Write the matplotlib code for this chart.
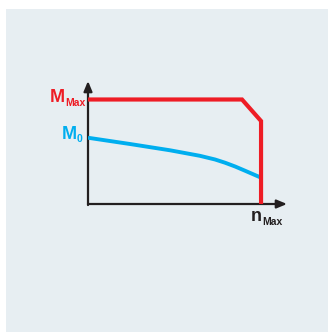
import matplotlib.pyplot as plt

# speed n (n_Max = 1) and torque M (M_Max = 1)
limit_n = [0.0, 0.89, 1.0, 1.0]
limit_m = [1.0, 1.0, 0.794, 0.0]

cont_n = [0.0, 0.243, 0.474, 0.647, 0.734, 0.792, 0.850, 0.908, 1.0]
cont_m = [0.634, 0.574, 0.514, 0.461, 0.426, 0.395, 0.359, 0.318, 0.252]

RED = '#ee1c25'
BLUE = '#00aeef'
DARK = '#231f20'
BG = '#e7eef2'

fig = plt.figure(figsize=(3.28, 3.32), dpi=100)
fig.patch.set_facecolor('white')

# light panel behind the chart
bg = fig.add_axes([6 / 328, 0, 1 - 6 / 328, 1 - 9 / 332], zorder=-10)
bg.set_facecolor(BG)
bg.set_xticks([])
bg.set_yticks([])
for s in bg.spines.values():
    s.set_visible(False)

ax = fig.add_axes([88 / 328, 128 / 332, 199 / 328, 123 / 332])
ax.set_xlim(0, 1.15)
ax.set_ylim(0, 1.177)
ax.patch.set_alpha(0)
for s in ax.spines.values():
    s.set_visible(False)
ax.set_xticks([])
ax.set_yticks([])

# axes with arrow heads
arrow = dict(arrowstyle='-|>,head_length=0.6,head_width=0.25', color=DARK,
             lw=1.6, shrinkA=0, shrinkB=0)
ax.annotate('', xy=(1.15, 0), xytext=(0, 0), arrowprops=arrow)
ax.annotate('', xy=(0, 1.177), xytext=(0, -0.01), arrowprops=arrow)

ax.plot(cont_n, cont_m, color=BLUE, lw=2.8, solid_capstyle='butt',
        solid_joinstyle='round', zorder=3)
ax.plot(limit_n, limit_m, color=RED, lw=3.0, solid_joinstyle='miter',
        solid_capstyle='butt', zorder=4)

big = dict(fontsize=13, fontweight='bold', family='Liberation Sans')
small = dict(fontsize=7.5, fontweight='bold', family='Liberation Sans')

ax.text(-0.133, 0.979, 'M', color=RED, ha='right', va='baseline', **big)
ax.text(-0.133, 0.941, 'Max', color=RED, ha='left', va='baseline', **small)
ax.text(-0.064, 0.622, 'M', color=BLUE, ha='right', va='baseline', **big)
ax.text(-0.064, 0.593, '0', color=BLUE, ha='left', va='baseline', **small)
ax.text(1.006, -0.163, 'n', color=DARK, ha='right', va='baseline', **big)
ax.text(1.006, -0.201, 'Max', color=DARK, ha='left', va='baseline', **small)

fig.savefig('out.png', dpi=100, facecolor=fig.get_facecolor())
